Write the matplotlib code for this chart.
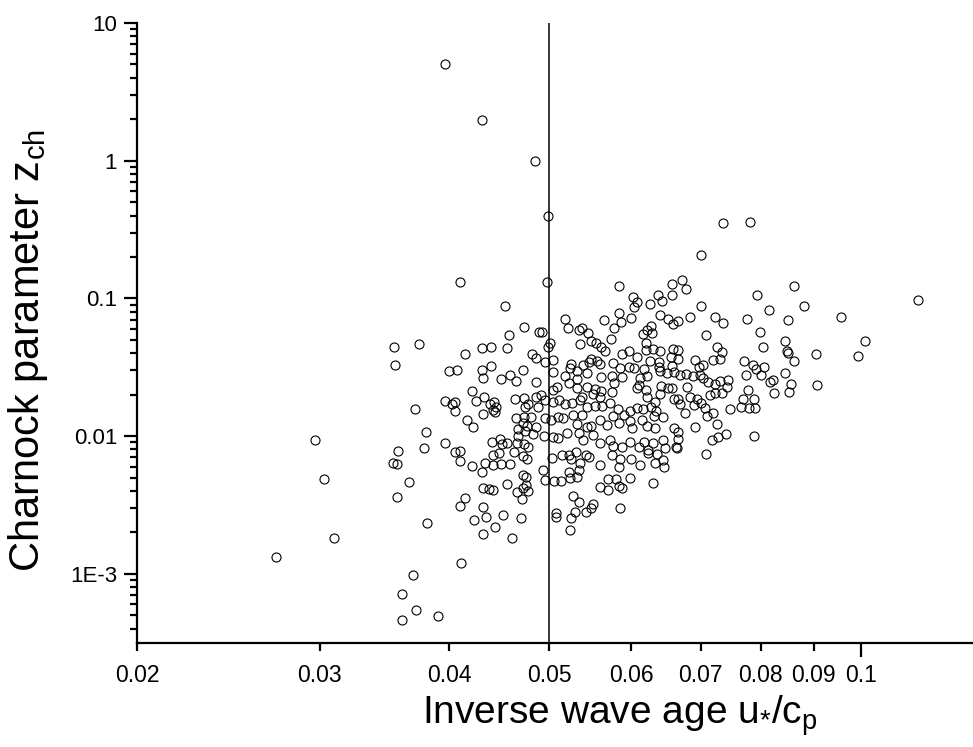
import matplotlib
matplotlib.use("Agg")
import matplotlib.pyplot as plt
from matplotlib.ticker import NullFormatter, FixedLocator, LogLocator

# ---------------- data ----------------
# sparse / upper points
x_top = [0.0396, 0.0430, 0.0484, 0.0498, 0.0497, 0.0410, 0.0584, 0.0602, 0.0636, 0.0657,
         0.0657, 0.0672, 0.0677, 0.0701, 0.0735, 0.0781, 0.0793, 0.0861, 0.1134]
y_top = [5.04, 1.97, 1.0, 0.40, 0.131, 0.131, 0.123, 0.102, 0.105, 0.105,
         0.127, 0.136, 0.118, 0.205, 0.354, 0.358, 0.105, 0.123, 0.0974]

# right-hand points
x_right = [0.0880, 0.0814, 0.0776, 0.0850, 0.0956, 0.0798, 0.0845, 0.0804, 0.1008, 0.0847,
           0.0850, 0.0862, 0.0904, 0.0993, 0.0770, 0.0786, 0.0791, 0.0806, 0.0800, 0.0774,
           0.0845, 0.0822, 0.0817, 0.0855, 0.0852, 0.0823, 0.0906, 0.0777, 0.0768, 0.0788,
           0.0766, 0.0779, 0.0789, 0.0788]
y_right = [0.0885, 0.0819, 0.0705, 0.0696, 0.0731, 0.0573, 0.0493, 0.0446, 0.0488, 0.0413,
           0.0399, 0.0350, 0.0398, 0.0379, 0.0350, 0.0327, 0.0305, 0.0316, 0.0278, 0.0278,
           0.0286, 0.0256, 0.0248, 0.0239, 0.0210, 0.0205, 0.0236, 0.0215, 0.0185, 0.0185,
           0.0163, 0.0161, 0.0159, 0.0100]

# left-centre points
x_left = [0.0453, 0.0472, 0.0457, 0.0489, 0.0354, 0.0374, 0.0414, 0.0430, 0.0439, 0.0455,
          0.0481, 0.0485, 0.0355, 0.0400, 0.0407, 0.0430, 0.0431, 0.0439, 0.0449, 0.0458,
          0.0464, 0.0471, 0.0485, 0.0421, 0.0396, 0.0403, 0.0405, 0.0405, 0.0425, 0.0432,
          0.0438, 0.0442, 0.0444, 0.0441, 0.0443, 0.0431, 0.0463, 0.0472, 0.0474, 0.0485,
          0.0477, 0.0487, 0.0371, 0.0416, 0.0422, 0.0464, 0.0473, 0.0480, 0.0471, 0.0466,
          0.0476, 0.0485, 0.0474, 0.0482, 0.0466, 0.0380, 0.0378, 0.0357, 0.0396, 0.0405,
          0.0410, 0.0410, 0.0440, 0.0448, 0.0455, 0.0450, 0.0465, 0.0472, 0.0477, 0.0462,
          0.0471, 0.0476, 0.0447, 0.0441, 0.0353, 0.0356, 0.0433, 0.0441, 0.0449, 0.0458,
          0.0421]
y_left = [0.0881, 0.0617, 0.0546, 0.0570, 0.0445, 0.0468, 0.0398, 0.0433, 0.0445, 0.0433,
          0.0398, 0.0371, 0.0327, 0.0296, 0.0302, 0.0302, 0.0264, 0.0322, 0.0258, 0.0278,
          0.0253, 0.0303, 0.0249, 0.0213, 0.0181, 0.0172, 0.0177, 0.0152, 0.0181, 0.0191,
          0.0172, 0.0178, 0.0163, 0.0154, 0.0149, 0.0144, 0.0187, 0.0188, 0.0163, 0.0192,
          0.0170, 0.0163, 0.0157, 0.0132, 0.0117, 0.0136, 0.0137, 0.0137, 0.0125, 0.0113,
          0.0118, 0.0117, 0.0109, 0.0103, 0.0100, 0.01073, 0.00826, 0.00785, 0.00888, 0.00765,
          0.00782, 0.00661, 0.00913, 0.00955, 0.00897, 0.00883, 0.00888, 0.00879, 0.00840, 0.00762,
          0.00720, 0.00681, 0.00755, 0.00733, 0.00642, 0.00627, 0.00642, 0.00620, 0.00625, 0.00627,
          0.00603]

# lower-left points
x_low = [0.0297, 0.0303, 0.0310, 0.0272, 0.0366, 0.0356, 0.0381, 0.0411, 0.0369, 0.0360,
         0.0372, 0.0360, 0.0390, 0.0430, 0.0493, 0.0495, 0.0471, 0.0475, 0.0431, 0.0437,
         0.0441, 0.0455, 0.0465, 0.0471, 0.0475, 0.0477, 0.0470, 0.0414, 0.0410, 0.0431,
         0.0434, 0.0423, 0.0451, 0.0469, 0.0443, 0.0431, 0.0460]
y_low = [0.00932, 0.00488, 0.00181, 0.00132, 0.00464, 0.0036, 0.00235, 0.00119, 0.000985, 0.00071,
         0.000543, 0.000464, 0.000491, 0.00551, 0.00567, 0.00480, 0.00522, 0.00502, 0.00422, 0.00411,
         0.00404, 0.00447, 0.00391, 0.00418, 0.00439, 0.00397, 0.00347, 0.00353, 0.00309, 0.00304,
         0.00260, 0.00245, 0.00266, 0.00256, 0.00219, 0.00195, 0.00183]

# lower-right points
x_lowr = [0.0505, 0.0513, 0.0523, 0.0531, 0.0522, 0.0534, 0.0559, 0.0570, 0.0570, 0.0580,
          0.0584, 0.0588, 0.0598, 0.0630, 0.0527, 0.0534, 0.0551, 0.0548, 0.0542, 0.0529,
          0.0524, 0.0507, 0.0507, 0.0585, 0.0523]
y_lowr = [0.00475, 0.00475, 0.00494, 0.00507, 0.00551, 0.00567, 0.00429, 0.00406, 0.00486, 0.00486,
          0.00434, 0.00418, 0.00499, 0.00454, 0.00367, 0.00332, 0.00321, 0.00299, 0.00280, 0.00282,
          0.00256, 0.00275, 0.00257, 0.00299, 0.00207]

# dense centre cloud
x_mid = [0.0607, 0.0604, 0.0625, 0.0642, 0.0701,
         0.0518, 0.0584, 0.0564, 0.0586, 0.0600, 0.0639, 0.0651, 0.0658, 0.0665, 0.0683, 0.0722, 0.0735,
         0.0521, 0.0534, 0.0538, 0.0545, 0.0577, 0.0573, 0.0615, 0.0621, 0.0627, 0.0628, 0.0708,
         0.0492, 0.0501, 0.0498, 0.0535, 0.0548, 0.0554, 0.0561, 0.0566, 0.0587, 0.0597, 0.0607,
         0.0620, 0.0620, 0.0629, 0.0639, 0.0658, 0.0666, 0.0655, 0.0665, 0.0725, 0.0734,
         0.0495, 0.0504, 0.0525, 0.0523, 0.0539, 0.0546, 0.0548, 0.0556, 0.0559, 0.0576, 0.0585,
         0.0597, 0.0604, 0.0617, 0.0625, 0.0638, 0.0638, 0.0656, 0.0691, 0.0697, 0.0704, 0.0719, 0.0731,
         0.0504, 0.0518, 0.0522, 0.0532, 0.0543, 0.0532, 0.0561, 0.0575, 0.0587, 0.0577, 0.0612,
         0.0621, 0.0639, 0.0649, 0.0659, 0.0668, 0.0678, 0.0688, 0.0699, 0.0704, 0.0712, 0.0731,
         0.0744, 0.0641, 0.0651, 0.0656, 0.0679, 0.0742, 0.0722,
         0.0504, 0.0509, 0.0531, 0.0543, 0.0553, 0.0561, 0.0560, 0.0551, 0.0538, 0.0574, 0.0607,
         0.0620, 0.0610, 0.0621, 0.0632, 0.0639, 0.0660, 0.0665, 0.0684, 0.0694, 0.0715, 0.0723,
         0.0734, 0.0747,
         0.0491, 0.0495, 0.0504, 0.0511, 0.0518, 0.0526, 0.0535, 0.0543, 0.0553, 0.0562, 0.0572,
         0.0582, 0.0598, 0.0607, 0.0616, 0.0627, 0.0634, 0.0643, 0.0669, 0.0676, 0.0690, 0.0700,
         0.0707, 0.0710, 0.0719,
         0.0495, 0.0502, 0.0510, 0.0515, 0.0527, 0.0537, 0.0532, 0.0543, 0.0548, 0.0559, 0.0568,
         0.0576, 0.0583, 0.0590, 0.0598, 0.0601, 0.0614, 0.0621, 0.0631, 0.0632, 0.0660, 0.0665,
         0.0691, 0.0725,
         0.0494, 0.0504, 0.0510, 0.0520, 0.0534, 0.0539, 0.0551, 0.0560, 0.0572, 0.0576, 0.0588,
         0.0598, 0.0610, 0.0617, 0.0623, 0.0630, 0.0644, 0.0646, 0.0665, 0.0663, 0.0708, 0.0717,
         0.0728, 0.0740, 0.0530, 0.0542, 0.0522,
         0.0503, 0.0514, 0.0525, 0.0535, 0.0546, 0.0560, 0.0574, 0.0585, 0.0583, 0.0599, 0.0612,
         0.0623, 0.0635, 0.0632, 0.0644, 0.0645, 0.0664]
y_mid = [0.0947, 0.0861, 0.0911, 0.0958, 0.0881,
         0.0705, 0.0779, 0.0697, 0.0678, 0.0717, 0.0758, 0.0705, 0.0648, 0.0685, 0.0737, 0.0729, 0.0667,
         0.0614, 0.0590, 0.0607, 0.0564, 0.0607, 0.0508, 0.0549, 0.0590, 0.0631, 0.0558, 0.0543,
         0.0567, 0.0477, 0.0446, 0.0466, 0.0494, 0.0472, 0.0446, 0.0417, 0.0394, 0.0417, 0.0378,
         0.0477, 0.0422, 0.0427, 0.0417, 0.0427, 0.0422, 0.0378, 0.0361, 0.0446, 0.0410,
         0.0347, 0.0357, 0.0334, 0.0310, 0.0329, 0.0347, 0.0361, 0.0351, 0.0333, 0.0338, 0.0310,
         0.0319, 0.0310, 0.0305, 0.0353, 0.0347, 0.0319, 0.0323, 0.0357, 0.0319, 0.0329, 0.0357, 0.0366,
         0.0294, 0.0273, 0.0245, 0.0297, 0.0289, 0.0262, 0.0270, 0.0273, 0.0270, 0.0245, 0.0263,
         0.0273, 0.0299, 0.0289, 0.0294, 0.0278, 0.0283, 0.0273, 0.0278, 0.0263, 0.0249, 0.0252,
         0.0256, 0.0232, 0.0222, 0.0222, 0.0229, 0.0226, 0.0240,
         0.0216, 0.0229, 0.0222, 0.0226, 0.0219, 0.0214, 0.0193, 0.0202, 0.0191, 0.0210, 0.0222,
         0.0216, 0.0235, 0.0191, 0.0178, 0.0202, 0.0185, 0.0185, 0.0193, 0.0185, 0.0199, 0.0207,
         0.0205, 0.0157,
         0.0199, 0.0183, 0.0178, 0.0183, 0.0171, 0.0175, 0.0183, 0.0164, 0.0166, 0.0166, 0.0173,
         0.0157, 0.0151, 0.0159, 0.0157, 0.0162, 0.0151, 0.0137, 0.0171, 0.0148, 0.0169, 0.0175,
         0.0159, 0.0140, 0.0146,
         0.0135, 0.0131, 0.0137, 0.0135, 0.0142, 0.0142, 0.0123, 0.0117, 0.0118, 0.0131, 0.0121,
         0.0140, 0.0124, 0.0142, 0.0129, 0.0114, 0.0131, 0.0118, 0.0140, 0.0114, 0.0115, 0.0108,
         0.0117, 0.0122,
         0.0100, 0.00991, 0.00964, 0.0105, 0.0105, 0.00937, 0.0102, 0.00886, 0.00937, 0.00847, 0.00838,
         0.00911, 0.00838, 0.00911, 0.00793, 0.00886, 0.00937, 0.00815, 0.00947, 0.00838, 0.00742, 0.00937,
         0.00991, 0.0104, 0.00771, 0.00729, 0.00729,
         0.00690, 0.00729, 0.00679, 0.00634, 0.00709, 0.00617, 0.00729, 0.00679, 0.00600, 0.00679, 0.00617,
         0.00758, 0.00738, 0.00634, 0.00671, 0.00600, 0.00815]

x_vals = x_top + x_right + x_left + x_low + x_lowr + x_mid
y_vals = y_top + y_right + y_left + y_low + y_lowr + y_mid

x_minor_ticks = [0.02, 0.03, 0.04, 0.05, 0.06, 0.07, 0.08, 0.09]
x_minor_labels = ["0.02", "0.03", "0.04", "0.05", "0.06", "0.07", "0.08", "0.09"]
x_major_ticks = [0.1]
x_major_labels = ["0.1"]
y_ticks = [1e-3, 1e-2, 1e-1, 1, 10]
y_labels = ["1E-3", "0.01", "0.1", "1", "10"]
ref_x = 0.05

# ---------------- figure ----------------
W, H = 973, 747
fig = plt.figure(figsize=(W / 100, H / 100), dpi=100)
ax = fig.add_axes([137.3 / W, 1 - 643.3 / H, (W - 137.3) / W, (643.3 - 23) / H])

ax.plot(x_vals, y_vals, linestyle="none", marker="o", ms=6.5, mfc="none",
        mec="black", mew=0.8, clip_on=False, zorder=3)
ax.axvline(ref_x, color="black", lw=1.1, zorder=2)

ax.set_xscale("log")
ax.set_yscale("log")
ax.set_xlim(0.02, 0.1282)
ax.set_ylim(3.13e-4, 10)

for s in ("top", "right"):
    ax.spines[s].set_visible(False)
for s in ("left", "bottom"):
    ax.spines[s].set_linewidth(1.6)

font_x = ["Liberation Sans Narrow", "Liberation Sans", "DejaVu Sans"]
font_y = ["Liberation Sans", "DejaVu Sans"]

# x axis ticks
ax.xaxis.set_major_locator(FixedLocator(x_major_ticks))
ax.xaxis.set_minor_locator(FixedLocator(x_minor_ticks))
ax.set_xticklabels(x_major_labels)
ax.set_xticklabels(x_minor_labels, minor=True)
ax.tick_params(axis="x", which="major", direction="out", length=10, width=1.6, pad=5)
ax.tick_params(axis="x", which="minor", direction="out", length=5.5, width=1.6, pad=9.5)
for lab in ax.get_xticklabels(which="both"):
    lab.set_family(font_x)
    lab.set_fontsize(16.5)

# y axis ticks
ax.yaxis.set_major_locator(FixedLocator(y_ticks))
ax.set_yticklabels(y_labels)
ax.yaxis.set_minor_locator(LogLocator(base=10, subs=range(2, 10), numticks=20))
ax.yaxis.set_minor_formatter(NullFormatter())
ax.tick_params(axis="y", which="major", direction="out", length=9.5, width=1.6, pad=5)
ax.tick_params(axis="y", which="minor", direction="out", length=5, width=1.6)
for lab in ax.get_yticklabels():
    lab.set_family(font_y)
    lab.set_fontsize(16)

fig.text(620 / W, 1 - 716 / H, r"Inverse wave age $\mathregular{u_{*}/c_{p}}$",
         family=font_x, fontsize=28, ha="center", va="center")
fig.text(28 / W, 1 - 350 / H, r"Charnock parameter $\mathregular{z_{ch}}$",
         family=font_y, fontsize=30, ha="center", va="center", rotation=90)

fig.savefig("out.png", dpi=100)
